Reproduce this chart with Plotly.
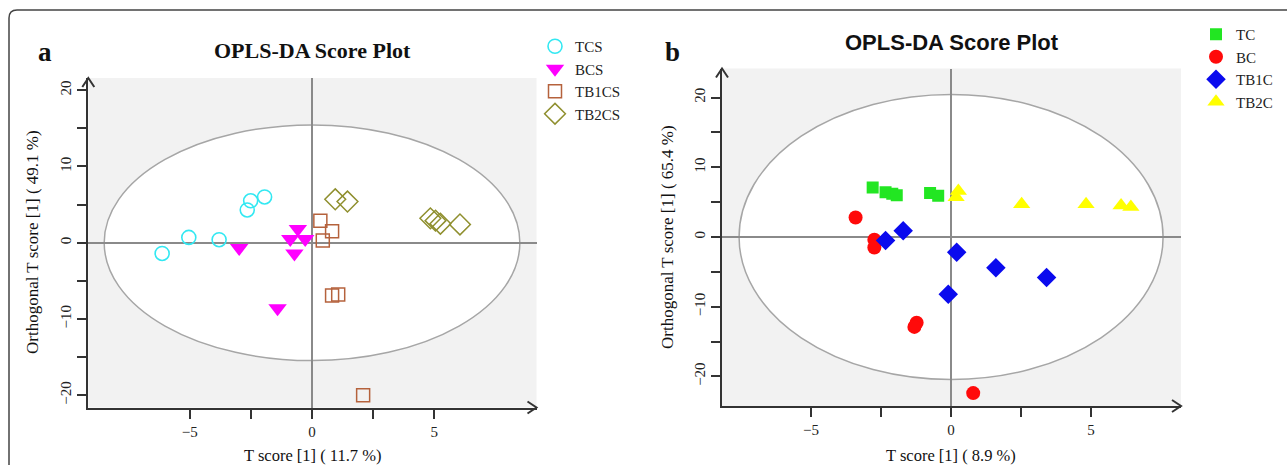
import plotly.graph_objects as go

W, H = 1287, 465

# ---------------- Panel a data (OPLS-DA, serum) ----------------
tcs_x = [-6.13, -5.04, -3.80, -2.65, -2.51, -1.94]
tcs_y = [-1.4, 0.7, 0.4, 4.3, 5.5, 6.0]
bcs_x = [-2.98, -1.41, -0.58, -0.89, -0.28, -0.72]
bcs_y = [-0.7, -8.6, 1.8, 0.5, 0.5, -1.4]
tb1cs_x = [0.34, 0.82, 0.44, 0.82, 1.07, 2.09]
tb1cs_y = [2.9, 1.5, 0.3, -6.9, -6.8, -20.0]
tb2cs_x = [0.95, 1.45, 4.84, 5.05, 5.25, 6.05]
tb2cs_y = [5.7, 5.4, 3.2, 2.9, 2.5, 2.4]

# ---------------- Panel b data ----------------
tc_x = [-2.80, -2.34, -2.10, -1.94, -0.75, -0.46]
tc_y = [7.1, 6.4, 6.2, 6.0, 6.3, 5.9]
bc_x = [-3.41, -2.74, -2.74, -1.23, -1.31, 0.79]
bc_y = [2.8, -0.4, -1.5, -12.3, -12.9, -22.4]
tb1c_x = [-2.34, -1.71, 0.20, 1.60, 3.41, -0.10]
tb1c_y = [-0.5, 0.9, -2.2, -4.4, -5.8, -8.2]
tb2c_x = [0.26, 0.18, 2.52, 4.82, 6.07, 6.42]
tb2c_y = [6.6, 5.7, 4.7, 4.7, 4.5, 4.3]

# Hotelling T2 ellipse radii
ell_a = (8.5, 15.45)
ell_b = (7.57, 20.45)

x_ticks = [-5, 0, 5]
y_ticks = [-20, -10, 0, 10, 20]
x_minor = [-2.5, 2.5]
y_minor = [-15, -5, 5, 15]

SERIF = "Liberation Serif, Times New Roman, serif"
SANS = "Liberation Sans, Arial, sans-serif"
AX = "#333333"
BG = "#f2f2f2"


def px(x):
    return x / W


def py(y):
    return 1 - y / H


fig = go.Figure()

# panel a traces
fig.add_trace(go.Scatter(x=tcs_x, y=tcs_y, mode="markers", name="TCS",
                         marker=dict(symbol="circle-open", size=14, color="#33e8f2", line=dict(width=1.6)),
                         xaxis="x", yaxis="y", legend="legend"))
fig.add_trace(go.Scatter(x=bcs_x, y=bcs_y, mode="markers", name="BCS",
                         marker=dict(symbol="triangle-down", size=16, color="#ff00ff"),
                         xaxis="x", yaxis="y", legend="legend"))
fig.add_trace(go.Scatter(x=tb1cs_x, y=tb1cs_y, mode="markers", name="TB1CS",
                         marker=dict(symbol="square-open", size=13, color="#b5623c", line=dict(width=1.5)),
                         xaxis="x", yaxis="y", legend="legend"))
fig.add_trace(go.Scatter(x=tb2cs_x, y=tb2cs_y, mode="markers", name="TB2CS",
                         marker=dict(symbol="diamond-open", size=16, color="#8f8f2e", line=dict(width=1.5)),
                         xaxis="x", yaxis="y", legend="legend"))

# panel b traces
fig.add_trace(go.Scatter(x=tc_x, y=tc_y, mode="markers", name="TC",
                         marker=dict(symbol="square", size=12, color="#22e622"),
                         xaxis="x2", yaxis="y2", legend="legend2"))
fig.add_trace(go.Scatter(x=bc_x, y=bc_y, mode="markers", name="BC",
                         marker=dict(symbol="circle", size=14, color="#ff0a0a"),
                         xaxis="x2", yaxis="y2", legend="legend2"))
fig.add_trace(go.Scatter(x=tb1c_x, y=tb1c_y, mode="markers", name="TB1C",
                         marker=dict(symbol="diamond", size=15, color="#0a0aee"),
                         xaxis="x2", yaxis="y2", legend="legend2"))
fig.add_trace(go.Scatter(x=tb2c_x, y=tb2c_y, mode="markers", name="TB2C",
                         marker=dict(symbol="triangle-up", size=15, color="#ffff00"),
                         xaxis="x2", yaxis="y2", legend="legend2"))


def axis(domain, rng, tickvals, minor_vals, anchor, vertical):
    d = dict(domain=domain, range=rng, anchor=anchor, showgrid=False,
             showline=True, linecolor=AX, linewidth=2,
             ticks="outside", ticklen=9, tickwidth=1.5, tickcolor=AX,
             tickmode="array", tickvals=tickvals,
             minor=dict(tickmode="array", tickvals=minor_vals, ticks="outside",
                        ticklen=9, tickwidth=1.5, tickcolor=AX, showgrid=False),
             zeroline=True, zerolinecolor="#8a8a8a", zerolinewidth=1.5,
             tickfont=dict(family=SERIF, size=15, color="#222"),
             fixedrange=True)
    if vertical:
        d["tickangle"] = -90
    return d


# pixel geometry of the two plot areas
A = dict(l=88.3, r=536.5, t=78, b=407.5)
B = dict(l=722, r=1181, t=68.5, b=406)

fig.update_layout(
    width=W, height=H,
    margin=dict(l=0, r=0, t=0, b=0, autoexpand=False),
    paper_bgcolor="white", plot_bgcolor=BG,
    xaxis=axis([px(A["l"]), px(A["r"])], [-9.15, 9.18], x_ticks, x_minor, "y", False),
    yaxis=axis([py(A["b"]), py(A["t"])], [-21.6, 21.6], y_ticks, y_minor, "x", True),
    xaxis2=axis([px(B["l"]), px(B["r"])], [-8.18, 8.21], x_ticks, x_minor, "y2", False),
    yaxis2=axis([py(B["b"]), py(B["t"])], [-24.25, 24.17], y_ticks, y_minor, "x2", True),
    legend=dict(x=px(535), y=py(30), xanchor="left", yanchor="top",
                font=dict(family=SERIF, size=15, color="#222"),
                bgcolor="rgba(0,0,0,0)", itemwidth=30, tracegroupgap=0),
    legend2=dict(x=px(1196), y=py(18), xanchor="left", yanchor="top",
                 font=dict(family=SERIF, size=15, color="#222"),
                 bgcolor="rgba(0,0,0,0)", itemwidth=30, tracegroupgap=0),
    showlegend=True,
)

shapes = []
# confidence ellipses
for xr, yr, (rx, ry) in (("x", "y", ell_a), ("x2", "y2", ell_b)):
    shapes.append(dict(type="circle", xref=xr, yref=yr, x0=-rx, x1=rx, y0=-ry, y1=ry,
                       fillcolor="white", line=dict(color="#a6a6a6", width=1.5), layer="below"))

# axis arrows
for P in (A, B):
    shapes.append(dict(type="path", xref="paper", yref="paper",
                       path=f"M {px(P['r'] - 9)},{py(P['b'] - 6)} L {px(P['r'])},{py(P['b'])} L {px(P['r'] - 9)},{py(P['b'] + 6)}",
                       line=dict(color=AX, width=2)))
    shapes.append(dict(type="path", xref="paper", yref="paper",
                       path=f"M {px(P['l'] - 6)},{py(P['t'] + 9)} L {px(P['l'])},{py(P['t'])} L {px(P['l'] + 6)},{py(P['t'] + 9)}",
                       line=dict(color=AX, width=2)))

# outer rounded frame
shapes.append(dict(type="path", xref="paper", yref="paper",
                   path=f"M {px(9)},{py(480)} L {px(9)},{py(18)} Q {px(9)},{py(10)} {px(17)},{py(10)} L {px(1300)},{py(10)}",
                   line=dict(color="#444", width=1.5)))
fig.update_layout(shapes=shapes)

ann = []


def text(x, y, s, size, family, bold=False, angle=0):
    ann.append(dict(x=px(x), y=py(y), xref="paper", yref="paper", text=f"<b>{s}</b>" if bold else s,
                    showarrow=False, font=dict(family=family, size=size, color="#111"),
                    xanchor="center", yanchor="middle", textangle=angle))


text(45, 52, "a", 27, SERIF, bold=True)
text(312.5, 51, "OPLS-DA Score Plot", 22, SERIF, bold=True)
text(312, 455, "T score [1] ( 11.7 %)", 16.5, SERIF)
text(33, 242, "Orthogonal T score [1] ( 49.1 %)", 17, SERIF, angle=-90)

text(672, 52, "b", 27, SERIF, bold=True)
text(951.5, 42, "OPLS-DA Score Plot", 22, SANS, bold=True)
text(951, 455, "T score [1] ( 8.9 %)", 16.5, SERIF)
text(668, 237, "Orthogonal T score [1] ( 65.4 %)", 17, SERIF, angle=-90)

fig.update_layout(annotations=ann)

fig.write_html("out.html",
               config={"displayModeBar": False},
               post_script="document.body.style.margin='0';document.body.style.overflow='hidden';")
